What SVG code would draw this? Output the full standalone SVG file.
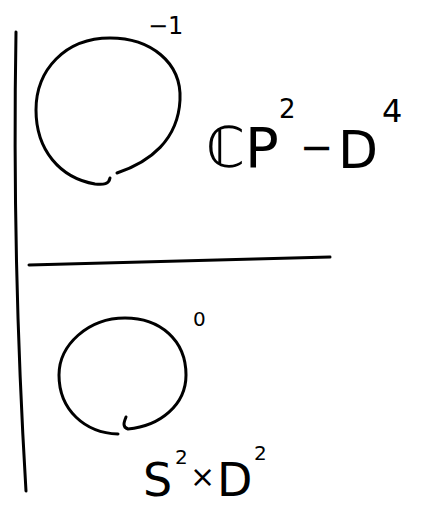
<svg xmlns="http://www.w3.org/2000/svg" width="421" height="506" viewBox="0 0 421 506">
<style>
.s{fill:none;stroke:#000;stroke-width:3;stroke-linecap:round;stroke-linejoin:round}
.t{font-family:"DejaVu Sans","Liberation Sans",sans-serif;fill:#000}
</style>
<rect width="421" height="506" fill="#fff"/>
<g id="frame">
<path class="s" d="M16,32 Q12,260 26,491" stroke-width="2.5"/>
<path class="s" d="M29,265 L330,257" stroke-width="2"/>
</g>
<g id="node-top">
<path class="s" d="M117,173 C150,162 178,140 180,100 C182,62 150,38 110,38 C65,38 36,70 36,110 C36,150 60,178 95,184 C104,185 109,184 110,178"/>
<text class="t" x="148" y="34" font-size="24">−1</text>
<text class="t" x="206" y="167" font-size="56">ℂP</text>
<text class="t" x="279" y="118" font-size="26">2</text>
<text class="t" x="300" y="161" font-size="40">−</text>
<text class="t" x="338" y="168" font-size="52">D</text>
<text class="t" x="382" y="122" font-size="32">4</text>
</g>
<g id="node-bottom">
<path class="s" d="M126,417 C124,422 122,427 128,429 C160,426 186,405 186,375 C186,340 160,318 125,318 C88,318 59,345 59,375 C59,410 85,433 118,434"/>
<text class="t" x="193" y="326" font-size="20">0</text>
<text class="t" x="143" y="496" font-size="46">S</text>
<text class="t" x="175" y="464" font-size="20">2</text>
<text class="t" x="190" y="487" font-size="30">×</text>
<text class="t" x="217" y="496" font-size="46">D</text>
<text class="t" x="254" y="460" font-size="20">2</text>
</g>
</svg>
